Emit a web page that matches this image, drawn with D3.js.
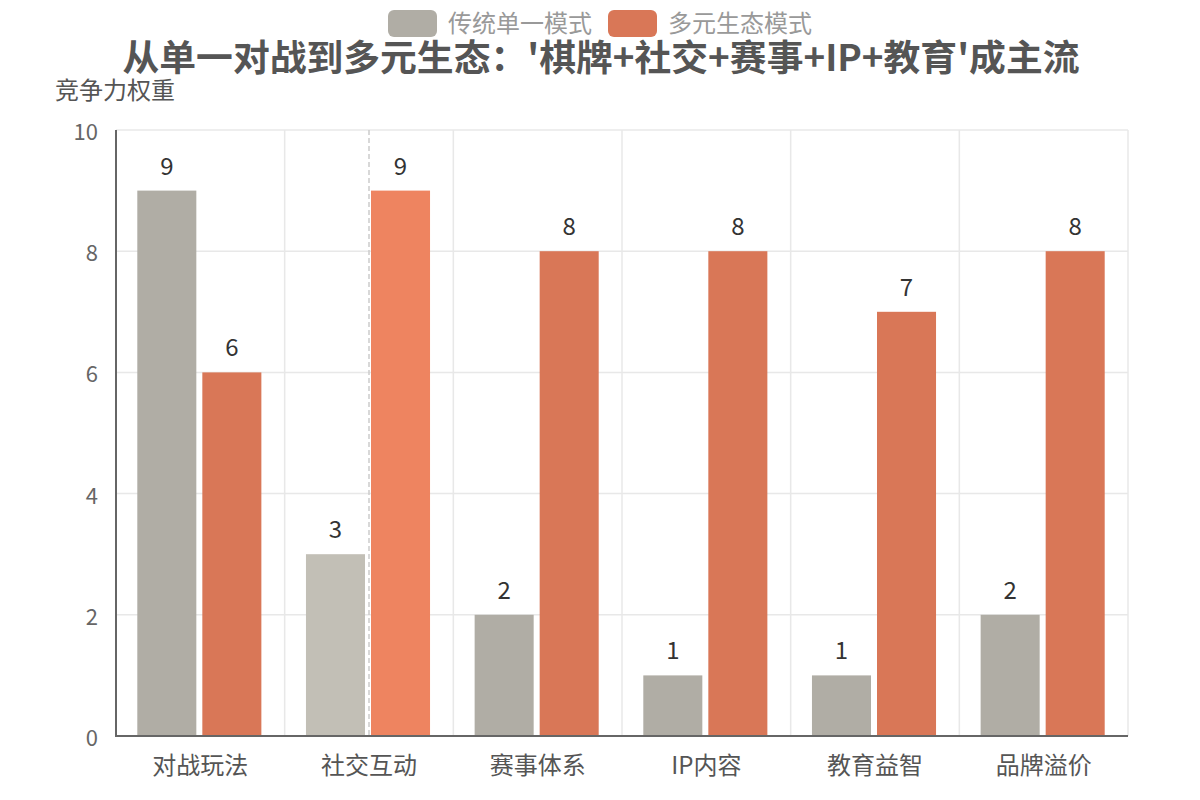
<!DOCTYPE html>
<html>
<head>
<meta charset="utf-8">
<script src="https://cdn.jsdelivr.net/npm/d3@7"></script>
<style>
  body { margin: 0; background: #fff; }
  svg { font-family: "Noto Sans CJK SC", "Noto Sans", sans-serif; }
</style>
</head>
<body>
<svg id="chart" width="1200" height="800"></svg>
<script>
const categories = ['对战玩法', '社交互动', '赛事体系', 'IP内容', '教育益智', '品牌溢价'];
const seriesNames = ['传统单一模式', '多元生态模式'];
const traditional = [9, 3, 2, 1, 1, 2];
const ecosystem = [6, 9, 8, 8, 7, 8];
const yTicks = [0, 2, 4, 6, 8, 10];

const COLORS = ['#b0ada5', '#d97757'];
const HOVER_COLORS = ['#c2bfb6', '#ee8460'];
const HOVER_INDEX = 1;

const SVG = d3.select('#chart');
const LEFT = 116, RIGHT = 1128, TOP = 130, BOTTOM = 736;

const X_SCALE = d3.scaleBand().domain(categories).range([LEFT, RIGHT]);
const BW = X_SCALE.bandwidth();
const BAR_W = BW * 0.35;
const GAP = 6;
const OFFSET = (BW - 2 * BAR_W - GAP) / 2 - 1;
const barX = (i, s) => X_SCALE(categories[i]) + OFFSET + s * (BAR_W + GAP);
const Y_SCALE = d3.scaleLinear().domain([0, 10]).range([BOTTOM, TOP]);

// grid
SVG.append('g').selectAll('line').data(yTicks).join('line')
  .attr('x1', LEFT).attr('x2', RIGHT)
  .attr('y1', (d) => Y_SCALE(d)).attr('y2', (d) => Y_SCALE(d))
  .style('stroke', '#e8e8e8').style('stroke-width', 1.5);

const bounds = categories.map((c) => X_SCALE(c)).concat([RIGHT]);
SVG.append('g').selectAll('line').data(bounds.slice(1)).join('line')
  .attr('x1', (d) => d).attr('x2', (d) => d)
  .attr('y1', TOP).attr('y2', BOTTOM)
  .style('stroke', '#e8e8e8').style('stroke-width', 1.5);

// axis pointer
const hoverX = X_SCALE(categories[HOVER_INDEX]) + BW / 2;
SVG.append('line')
  .attr('x1', hoverX).attr('x2', hoverX)
  .attr('y1', TOP).attr('y2', BOTTOM)
  .style('stroke', '#cccccc').style('stroke-width', 1.5)
  .style('stroke-dasharray', '5,3');

// bars
[traditional, ecosystem].forEach((values, s) => {
  const g = SVG.append('g');
  g.selectAll('rect').data(values).join('rect')
    .attr('x', (d, i) => barX(i, s))
    .attr('y', (d) => Y_SCALE(d))
    .attr('width', BAR_W)
    .attr('height', (d) => BOTTOM - Y_SCALE(d))
    .style('fill', (d, i) => (i === HOVER_INDEX ? HOVER_COLORS[s] : COLORS[s]));
  g.selectAll('text').data(values).join('text')
    .attr('x', (d, i) => barX(i, s) + BAR_W / 2)
    .attr('y', (d) => Y_SCALE(d) - 16)
    .attr('text-anchor', 'middle')
    .style('font-size', '24px')
    .style('fill', '#333')
    .text((d) => d);
});

// axes
SVG.append('line').attr('x1', LEFT).attr('x2', LEFT).attr('y1', TOP).attr('y2', BOTTOM)
  .style('stroke', '#666').style('stroke-width', 2);
SVG.append('line').attr('x1', LEFT - 1).attr('x2', RIGHT).attr('y1', BOTTOM).attr('y2', BOTTOM)
  .style('stroke', '#666').style('stroke-width', 2);

SVG.append('g').selectAll('text').data(yTicks).join('text')
  .attr('x', LEFT - 18).attr('y', (d) => Y_SCALE(d))
  .attr('text-anchor', 'end').attr('dominant-baseline', 'central')
  .style('font-size', '22px').style('fill', '#666')
  .text((d) => d);

SVG.append('g').selectAll('text').data(categories).join('text')
  .attr('x', (d) => X_SCALE(d) + BW / 2)
  .attr('y', BOTTOM + 27)
  .attr('text-anchor', 'middle').attr('dominant-baseline', 'central')
  .style('font-size', '24px').style('fill', '#555')
  .text((d) => d);

SVG.append('text').attr('x', 55).attr('y', 88)
  .attr('dominant-baseline', 'central')
  .style('font-size', '24px').style('fill', '#555')
  .text('竞争力权重');

// title
SVG.append('text').attr('x', 601).attr('y', 55)
  .attr('text-anchor', 'middle').attr('dominant-baseline', 'central')
  .style('font-size', '36.8px').style('font-weight', 'bold').style('fill', '#555')
  .text("从单一对战到多元生态：'棋牌+社交+赛事+IP+教育'成主流");

// legend
const legendX = [388, 608];
seriesNames.forEach((name, i) => {
  SVG.append('rect').attr('x', legendX[i]).attr('y', 10)
    .attr('width', 49).attr('height', 27).attr('rx', 6)
    .style('fill', COLORS[i]);
  SVG.append('text').attr('x', legendX[i] + 60).attr('y', 21)
    .attr('dominant-baseline', 'central')
    .style('font-size', '24px').style('fill', '#999')
    .text(name);
});
</script>
</body>
</html>
